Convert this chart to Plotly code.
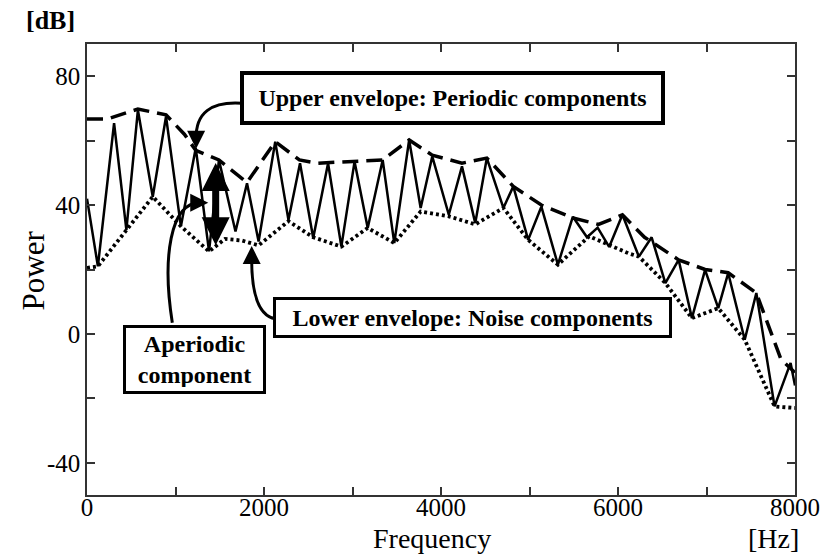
import plotly.graph_objects as go

# ---- data ----
freq_solid = [0, 123, 306, 445, 575, 743, 893, 1061, 1229, 1379, 1491, 1678, 1808, 1939,
              2127, 2276, 2407, 2556, 2724, 2874, 3023, 3172, 3341, 3472, 3640, 3770, 3901,
              4088, 4237, 4387, 4518, 4705, 4817, 4985, 5134, 5321, 5490, 5650, 5770, 5900,
              6050, 6236, 6380, 6535, 6685, 6835, 6984, 7133, 7245, 7432, 7563, 7769, 7950, 8000]
power_solid = [42, 21, 65.4, 32.3, 69.5, 42.6, 67.5, 33.4, 57.7, 25.6, 54.0, 31.8, 46.8, 28.7,
               59.7, 35.4, 53.0, 29.8, 53.0, 27.1, 53.5, 32.9, 54.0, 28.2, 60.2, 39.1, 55.1,
               37.0, 52.0, 34.4, 54.6, 39.1, 45.8, 29.2, 39.5, 21.5, 36.4, 30.0, 33.0, 27.0,
               37.0, 24.0, 30.0, 15.8, 23.0, 4.9, 19.9, 8.0, 18.9, -1.8, 12.7, -22.5, -9.0, -16.0]

freq_upper = [0, 230, 575, 893, 1100, 1229, 1491, 1808, 2127, 2400, 2600, 3023, 3341, 3640,
              3901, 4237, 4518, 4817, 5134, 5490, 5780, 6050, 6300, 6685, 6984, 7245, 7563,
              7843, 8000]
power_upper = [66.7, 66.7, 69.8, 68.0, 62.0, 57.0, 54.0, 47.0, 59.7, 54.0, 53.0, 53.5, 54.0,
               60.2, 55.5, 53.0, 54.6, 45.8, 40.0, 36.0, 34.0, 37.0, 30.0, 23.0, 20.0, 19.0,
               12.7, -8.0, -12.0]

freq_lower = [0, 123, 743, 1061, 1379, 1560, 1750, 1939, 2276, 2556, 2874, 3172, 3472, 3770,
              4088, 4387, 4705, 4985, 5321, 5674, 6121, 6236, 6535, 6835, 7133, 7432, 7769, 8000]
power_lower = [20.5, 21.0, 42.6, 33.4, 25.6, 29.5, 29.0, 27.5, 35.0, 30.0, 27.1, 32.9, 28.2,
               38.0, 36.5, 34.0, 39.1, 29.2, 21.5, 30.3, 25.0, 24.0, 15.8, 4.9, 8.0, -1.8,
               -22.5, -23.0]

x_tickvals = [0, 1000, 2000, 3000, 4000, 5000, 6000, 7000, 8000]
x_ticktext = ["0", "", "2000", "", "4000", "", "6000", "", "8000"]
y_tickvals = [-40, -20, 0, 20, 40, 60, 80]
y_ticktext = ["-40", "", "0", "", "40", "", "80"]

SERIF = "Liberation Serif"

fig = go.Figure()
fig.add_trace(go.Scatter(x=freq_solid, y=power_solid, mode="lines",
                         line=dict(color="black", width=2.5), showlegend=False))
fig.add_trace(go.Scatter(x=freq_upper, y=power_upper, mode="lines",
                         line=dict(color="black", width=3.5, dash="16px,8px"), showlegend=False))
fig.add_trace(go.Scatter(x=freq_lower, y=power_lower, mode="lines",
                         line=dict(color="black", width=3.8, dash="3px,3px"), showlegend=False))

axis_common = dict(showgrid=False, zeroline=False, showline=True, linecolor="#333",
                   linewidth=1.5, mirror="ticks", ticks="inside", ticklen=8,
                   tickcolor="#333", tickwidth=1.5,
                   tickfont=dict(family=SERIF, size=25, color="black"))

fig.update_xaxes(range=[0, 8000], tickvals=x_tickvals, ticktext=x_ticktext,
                 ticklabelstandoff=-11, **axis_common)
fig.update_yaxes(range=[-50, 90], tickvals=y_tickvals, ticktext=y_ticktext, **axis_common)

# curved connector paths (data coordinates)
fig.add_shape(type="path", xref="x", yref="y",
              path="M 1752 71.6 Q 1222 72.6 1233 60.5",
              line=dict(color="black", width=3))
fig.add_shape(type="path", xref="x", yref="y",
              path="M 2130 4.7 Q 1850 6.0 1861 24.5",
              line=dict(color="black", width=3))
fig.add_shape(type="path", xref="x", yref="y",
              path="M 964 3.5 C 852 23.0 930 41.6 1300 40.7",
              line=dict(color="black", width=3))

annos = []
# arrowheads at the ends of curved connectors
annos.append(dict(x=1233, y=57.5, ax=0, ay=-14, xref="x", yref="y", showarrow=True,
                  arrowhead=2, arrowsize=1.2, arrowwidth=3, arrowcolor="black", text=""))
annos.append(dict(x=1861, y=27.3, ax=0, ay=14, xref="x", yref="y", showarrow=True,
                  arrowhead=2, arrowsize=1.2, arrowwidth=3, arrowcolor="black", text=""))
annos.append(dict(x=1370, y=40.7, ax=-14, ay=0, xref="x", yref="y", showarrow=True,
                  arrowhead=2, arrowsize=1.2, arrowwidth=3, arrowcolor="black", text=""))
# thick double arrow
annos.append(dict(x=1454, y=27.5, ax=1454, ay=53.5, xref="x", yref="y", axref="x", ayref="y",
                  showarrow=True, arrowhead=2, startarrowhead=2, arrowside="end+start",
                  arrowsize=0.8, startarrowsize=0.8, arrowwidth=7, arrowcolor="black", text=""))

box_font = dict(family=SERIF, size=24, color="black")
annos.append(dict(x=4131, y=73.1, xref="x", yref="y", showarrow=False,
                  text="<b>Upper envelope: Periodic components</b>", font=box_font,
                  bgcolor="white", bordercolor="black", borderwidth=4, borderpad=4,
                  width=409, height=38))
annos.append(dict(x=4355, y=5.0, xref="x", yref="y", showarrow=False,
                  text="<b>Lower envelope: Noise components</b>", font=box_font,
                  bgcolor="white", bordercolor="black", borderwidth=3, borderpad=4,
                  width=385, height=27))
annos.append(dict(x=1216, y=-8.0, xref="x", yref="y", showarrow=False,
                  text="<b>Aperiodic<br>component</b>", font=box_font,
                  bgcolor="white", bordercolor="black", borderwidth=3, borderpad=4,
                  width=129, height=55, align="center"))

# axis labels (paper coordinates relative to the plot area)
annos.append(dict(x=-0.052, y=1.053, xref="paper", yref="paper", showarrow=False,
                  text="<b>[dB]</b>", font=dict(family=SERIF, size=26, color="black"),
                  xanchor="center", yanchor="middle"))
annos.append(dict(x=-0.0756, y=0.499, xref="paper", yref="paper", showarrow=False,
                  text="Power", textangle=-90, font=dict(family=SERIF, size=31, color="black"),
                  xanchor="center", yanchor="middle"))
annos.append(dict(x=0.487, y=-0.0965, xref="paper", yref="paper", showarrow=False,
                  text="Frequency", font=dict(family=SERIF, size=28, color="black"),
                  xanchor="center", yanchor="middle"))
annos.append(dict(x=0.97, y=-0.0965, xref="paper", yref="paper", showarrow=False,
                  text="[Hz]", font=dict(family=SERIF, size=28, color="black"),
                  xanchor="center", yanchor="middle"))

fig.update_layout(width=832, height=555, plot_bgcolor="white", paper_bgcolor="white",
                  margin=dict(l=87, r=31, t=44, b=60), annotations=annos)

fig.write_html("out.html")
